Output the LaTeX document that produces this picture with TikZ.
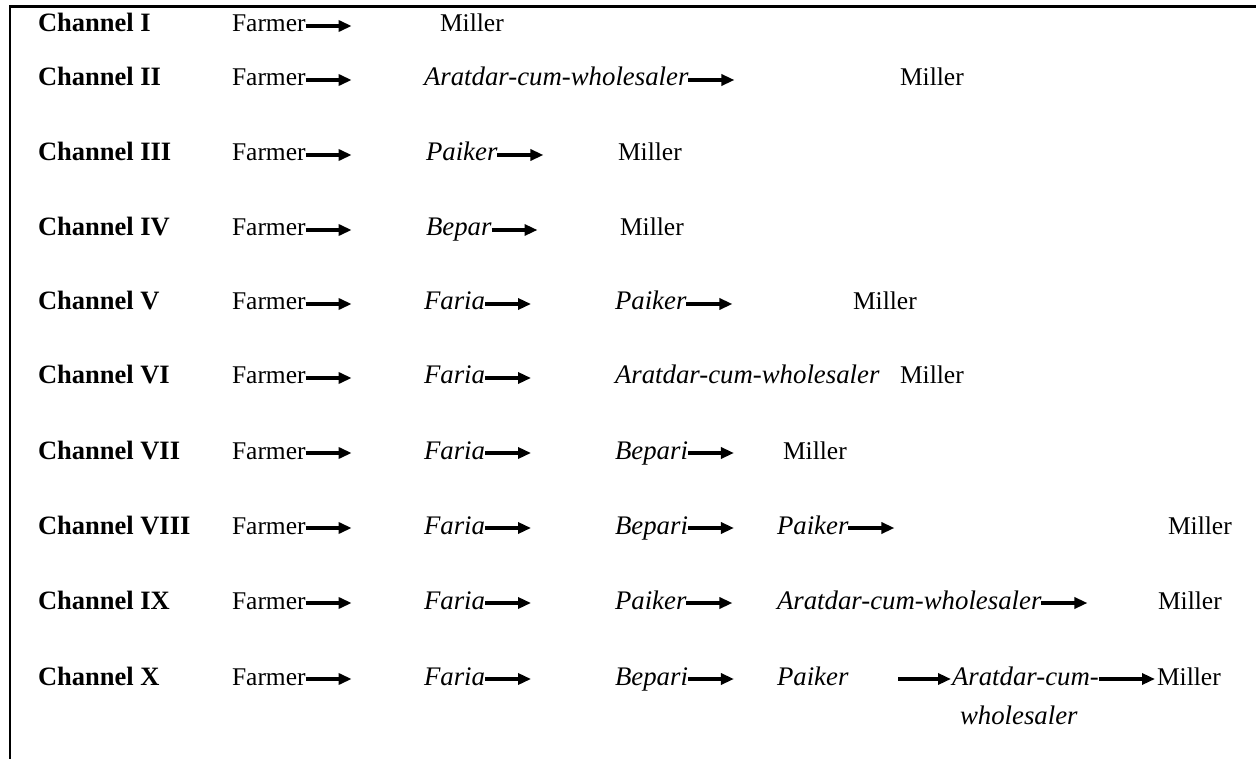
\documentclass[tikz,border=0pt]{standalone}
\usepackage{fontspec}
\setmainfont{Liberation Serif}
\usetikzlibrary{arrows.meta}
\begin{document}
\begin{tikzpicture}[x=1pt,y=-1pt,
  every node/.style={inner sep=0pt,outer sep=0pt,anchor=base west,font=\fontsize{25.5}{30}\selectfont},
  lab/.style={font=\fontsize{26.5}{30}\selectfont\bfseries},
  ital/.style={font=\fontsize{26.8}{30}\selectfont\itshape},
  flow/.style={line width=3.2pt,-{Triangle[length=13pt,width=11pt]}},
  frameline/.style={line width=2.5pt}]
\useasboundingbox (0,0) rectangle (1256,759);
% frame
\coordinate (tl) at (10,6.5);
\coordinate (tr) at (1256,6.5);
\coordinate (bl) at (10,759);
\draw[frameline] (bl) -- (tl) -- (tr);

% Channel I
\node[lab] (c1) at (38,32) {Channel I};
\node (a1) at (232,32) {Farmer};
\node (m1) at (440,32) {Miller};
\draw[flow] ([yshift=6pt]a1.base east) -- ++(46,0);

% Channel II
\node[lab] (c2) at (38,86) {Channel II};
\node (a2) at (232,86) {Farmer};
\node[ital] (b2) at (424,86) {Aratdar-cum-wholesaler};
\node (m2) at (900,86) {Miller};
\draw[flow] ([yshift=6pt]a2.base east) -- ++(46,0);
\draw[flow] ([yshift=6pt]b2.base east) -- ++(46,0);

% Channel III
\node[lab] (c3) at (38,161) {Channel III};
\node (a3) at (232,161) {Farmer};
\node[ital] (b3) at (426,161) {Paiker};
\node (m3) at (618,161) {Miller};
\draw[flow] ([yshift=6pt]a3.base east) -- ++(46,0);
\draw[flow] ([yshift=6pt]b3.base east) -- ++(46,0);

% Channel IV
\node[lab] (c4) at (38,236) {Channel IV};
\node (a4) at (232,236) {Farmer};
\node[ital] (b4) at (426,236) {Bepar};
\node (m4) at (620,236) {Miller};
\draw[flow] ([yshift=6pt]a4.base east) -- ++(46,0);
\draw[flow] ([yshift=6pt]b4.base east) -- ++(46,0);

% Channel V
\node[lab] (c5) at (38,310) {Channel V};
\node (a5) at (232,310) {Farmer};
\node[ital] (b5) at (424,310) {Faria};
\node[ital] (d5) at (615,310) {Paiker};
\node (m5) at (853,310) {Miller};
\draw[flow] ([yshift=6pt]a5.base east) -- ++(46,0);
\draw[flow] ([yshift=6pt]b5.base east) -- ++(46,0);
\draw[flow] ([yshift=6pt]d5.base east) -- ++(46,0);

% Channel VI
\node[lab] (c6) at (38,384) {Channel VI};
\node (a6) at (232,384) {Farmer};
\node[ital] (b6) at (424,384) {Faria};
\node[ital] (d6) at (615,384) {Aratdar-cum-wholesaler};
\node (m6) at (900,384) {Miller};
\draw[flow] ([yshift=6pt]a6.base east) -- ++(46,0);
\draw[flow] ([yshift=6pt]b6.base east) -- ++(46,0);

% Channel VII
\node[lab] (c7) at (38,459) {Channel VII};
\node (a7) at (232,459) {Farmer};
\node[ital] (b7) at (424,459) {Faria};
\node[ital] (d7) at (615,459) {Bepari};
\node (m7) at (783,459) {Miller};
\draw[flow] ([yshift=6pt]a7.base east) -- ++(46,0);
\draw[flow] ([yshift=6pt]b7.base east) -- ++(46,0);
\draw[flow] ([yshift=6pt]d7.base east) -- ++(46,0);

% Channel VIII
\node[lab] (c8) at (38,534) {Channel VIII};
\node (a8) at (232,534) {Farmer};
\node[ital] (b8) at (424,534) {Faria};
\node[ital] (d8) at (615,534) {Bepari};
\node[ital] (e8) at (777,534) {Paiker};
\node (m8) at (1168,534) {Miller};
\draw[flow] ([yshift=6pt]a8.base east) -- ++(46,0);
\draw[flow] ([yshift=6pt]b8.base east) -- ++(46,0);
\draw[flow] ([yshift=6pt]d8.base east) -- ++(46,0);
\draw[flow] ([yshift=6pt]e8.base east) -- ++(46,0);

% Channel IX
\node[lab] (c9) at (38,609) {Channel IX};
\node (a9) at (232,609) {Farmer};
\node[ital] (b9) at (424,609) {Faria};
\node[ital] (d9) at (615,609) {Paiker};
\node[ital] (e9) at (777,609) {Aratdar-cum-wholesaler};
\node (m9) at (1158,609) {Miller};
\draw[flow] ([yshift=6pt]a9.base east) -- ++(46,0);
\draw[flow] ([yshift=6pt]b9.base east) -- ++(46,0);
\draw[flow] ([yshift=6pt]d9.base east) -- ++(46,0);
\draw[flow] ([yshift=6pt]e9.base east) -- ++(46,0);

% Channel X
\node[lab] (c10) at (38,685) {Channel X};
\node (a10) at (232,685) {Farmer};
\node[ital] (b10) at (424,685) {Faria};
\node[ital] (d10) at (615,685) {Bepari};
\node[ital] (e10) at (777,685) {Paiker};
\node[ital] (f10) at (952,685) {Aratdar-cum-};
\node[ital] (g10) at (960,724) {wholesaler};
\node (m10) at (1157,685) {Miller};
\coordinate (s10) at (898,679);
\draw[flow] ([yshift=6pt]a10.base east) -- ++(46,0);
\draw[flow] ([yshift=6pt]b10.base east) -- ++(46,0);
\draw[flow] ([yshift=6pt]d10.base east) -- ++(46,0);
\draw[flow] (s10) -- ([xshift=-1pt]f10.west |- s10);
\draw[flow] ([yshift=6pt]f10.base east) -- ([xshift=-2pt]m10.west |- s10);
\end{tikzpicture}
\end{document}
